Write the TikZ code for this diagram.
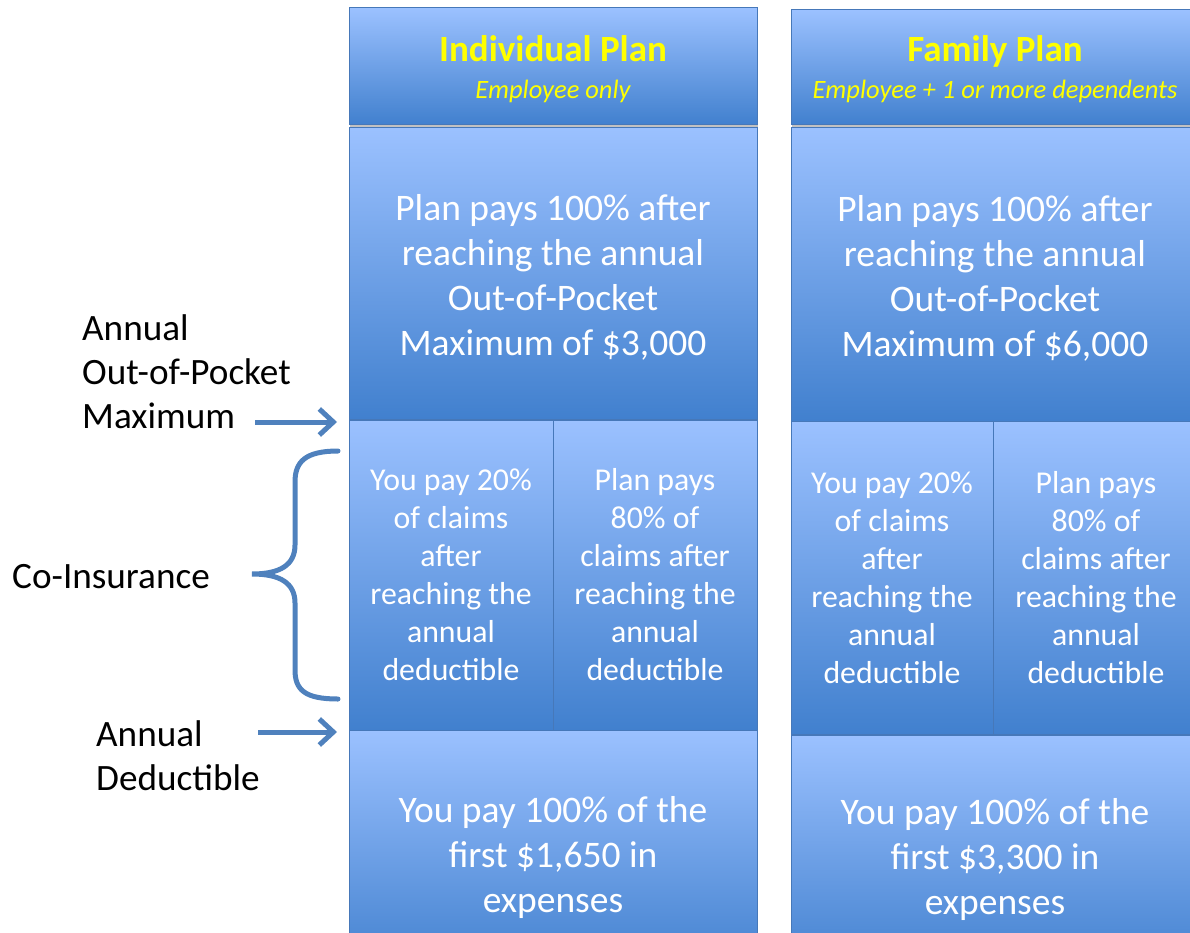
\documentclass[tikz,border=0pt]{standalone}
\usepackage{fontspec}
\setmainfont{Carlito}
\usetikzlibrary{shadows,arrows.meta}
\definecolor{boxtop}{RGB}{155,193,255}
\definecolor{boxbot}{RGB}{65,128,206}
\definecolor{boxline}{RGB}{70,120,185}
\definecolor{arrowc}{RGB}{79,129,189}
\definecolor{headtxt}{RGB}{255,255,0}
\tikzset{
  cell/.style={draw=boxline, line width=1pt, top color=boxtop, bottom color=boxbot,
    text=white, align=center, inner sep=0pt,
    drop shadow={shadow xshift=1pt, shadow yshift=-3pt, opacity=0.35, fill=black!70}},
  bigtxt/.style={font=\fontsize{37.5}{45}\selectfont, text=white, align=center, inner sep=0pt},
  midtxt/.style={font=\fontsize{31.8}{38}\selectfont},
  hdrtxt/.style={font=\fontsize{26.5}{37}\selectfont, text=headtxt, align=center, inner sep=0pt},
  lbl/.style={font=\fontsize{37.2}{44}\selectfont, align=left, anchor=west, inner sep=0pt, text=black},
  pointer/.style={draw=arrowc, line width=5pt, -{Straight Barb[length=14pt,width=26pt]}},
  bracec/.style={draw=arrowc, line width=5pt, line cap=round}
}
\newcommand{\hdr}[2]{{\bfseries\fontsize{37}{37}\selectfont #1}\\{\itshape #2}}
\begin{document}
\begin{tikzpicture}[x=1pt,y=-1pt]
\useasboundingbox (0,0) rectangle (1190,933);
\clip (0,0) rectangle (1190,933);
% Individual plan
\node[cell, minimum width=408pt, minimum height=117pt] (ih) at (553,66.5) {};
\node[hdrtxt] (iht) at (553,69.5) {\hdr{Individual Plan}{Employee only}};
\node[cell, minimum width=408pt, minimum height=291pt] (it) at (553,273.5) {};
\node[bigtxt] (itt) at (553,277.5) {Plan pays 100\% after\\reaching the annual\\Out-of-Pocket\\Maximum of \$3,000};
\node[cell, midtxt, minimum width=204pt, minimum height=310pt] (iml) at (451,575) {You pay 20\%\\of claims\\after\\reaching the\\annual\\deductible};
\node[cell, midtxt, minimum width=204pt, minimum height=310pt] (imr) at (655,575) {Plan pays\\80\% of\\claims after\\reaching the\\annual\\deductible};
\node[cell, minimum width=408pt, minimum height=244pt] (ib) at (553,852) {};
\node[bigtxt] (ibt) at (553,857) {You pay 100\% of the\\first \$1,650 in\\expenses};
% Family plan
\node[cell, minimum width=408pt, minimum height=115pt] (fh) at (995,67.5) {};
\node[hdrtxt] (fht) at (995,69.5) {\hdr{Family Plan}{Employee + 1 or more dependents}};
\node[cell, minimum width=408pt, minimum height=293pt] (ft) at (995,274.5) {};
\node[bigtxt] (ftt) at (995,278) {Plan pays 100\% after\\reaching the annual\\Out-of-Pocket\\Maximum of \$6,000};
\node[cell, midtxt, minimum width=202pt, minimum height=313pt] (fml) at (892,578) {You pay 20\%\\of claims\\after\\reaching the\\annual\\deductible};
\node[cell, midtxt, minimum width=206pt, minimum height=313pt] (fmr) at (1096,578) {Plan pays\\80\% of\\claims after\\reaching the\\annual\\deductible};
\node[cell, minimum width=408pt, minimum height=240pt] (fb) at (995,855) {};
\node[bigtxt] (fbt) at (995,859) {You pay 100\% of the\\first \$3,300 in\\expenses};
% Labels
\node[lbl] (loop) at (82,372) {Annual\\Out-of-Pocket\\Maximum};
\node[lbl] (lco) at (12,577) {Co-Insurance};
\node[lbl] (lded) at (96,756) {Annual\\Deductible};
% Arrows
\coordinate (a1s) at (255,422);
\coordinate (a1e) at (337,422);
\coordinate (a2s) at (258,732);
\coordinate (a2e) at (337,732);
\draw[pointer] (a1s) -- (a1e);
\draw[pointer] (a2s) -- (a2e);
% Brace
\coordinate (bt) at (338,451);
\coordinate (btip) at (252,574);
\coordinate (bb) at (338,699);
\draw[bracec] (bt) .. controls (305,451) and (295,462) .. (295,482) -- (295,545)
  .. controls (295,565) and (280,574) .. (btip)
  .. controls (280,574) and (295,583) .. (295,603) -- (295,670)
  .. controls (295,690) and (305,699) .. (bb);
\end{tikzpicture}
\end{document}
